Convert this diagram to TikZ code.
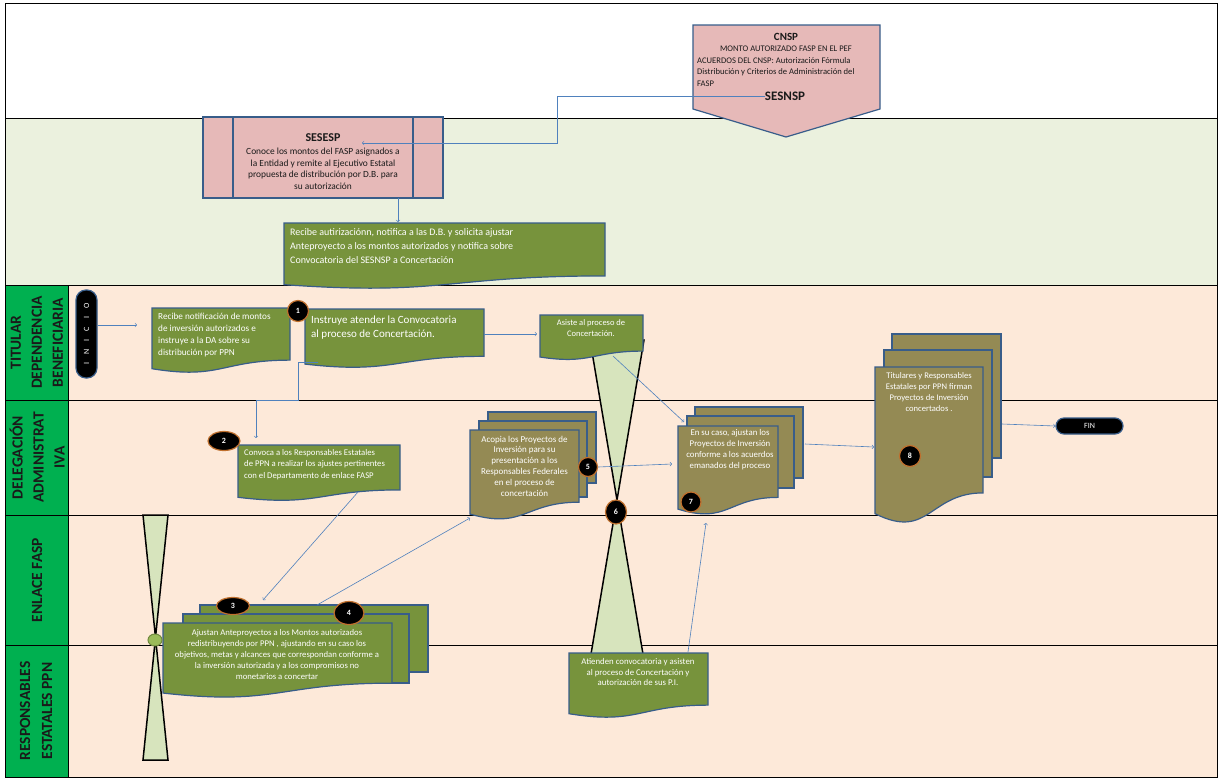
\documentclass[tikz,border=0pt]{standalone}
\usepackage{fontspec}
\setmainfont{Carlito}
\usetikzlibrary{shapes.geometric}
\definecolor{peach}{HTML}{FDE9D9}
\definecolor{band}{HTML}{EBF1DE}
\definecolor{lanegreen}{HTML}{00B050}
\definecolor{pink}{HTML}{E6B9B8}
\definecolor{edge}{HTML}{385D8A}
\definecolor{docgreen}{HTML}{77933C}
\definecolor{olive}{HTML}{948A54}
\definecolor{sand}{HTML}{D7E4BD}
\definecolor{link}{HTML}{4F81BD}
\definecolor{ring}{HTML}{C0702E}
\definecolor{leaf}{HTML}{9BBB59}
\definecolor{leafedge}{HTML}{71893F}
\definecolor{ink}{HTML}{1A1A1A}
\tikzset{
  frame/.style={draw=black, line width=1pt},
  doc/.style={fill=docgreen, draw=edge, line width=1.2pt},
  pages/.style={fill=olive, draw=edge, line width=1.2pt},
  pinkbox/.style={fill=pink, draw=edge, line width=1.2pt},
  gate/.style={fill=sand, draw=black, line width=1.5pt},
  link/.style={draw=link, line width=0.6pt, ->},
  num/.style={ellipse, fill=black, draw=ring, line width=1.2pt, text=white, inner sep=0pt,
    font=\fontsize{8}{9}\selectfont\bfseries},
  txt/.style={text=white, align=center, inner sep=0pt, font=\fontsize{8.8}{11}\selectfont},
  dark/.style={text=ink, align=center, inner sep=0pt, font=\fontsize{8.6}{11.5}\selectfont},
  lanelbl/.style={rotate=90, align=center, inner sep=0pt, text=ink,
    font=\fontsize{15.5}{21}\selectfont\bfseries},
  term/.style={rectangle, fill=black, draw=edge, line width=1.2pt, text=white, inner sep=0pt},
}
% document shape: x1 y1 (top left), x2 y2 (right, nominal bottom)
\newcommand{\docshape}[5][doc]{%
  \path[#1] (#2,#3) -- (#4,#3) -- (#4,{#3+0.802*(#5-#3)})
    .. controls ({(#2+#4)/2},{#3+0.802*(#5-#3)}) and ({(#2+#4)/2},{#3+1.107*(#5-#3)})
    .. (#2,{#3+0.934*(#5-#3)}) -- cycle;}

\begin{document}
\begin{tikzpicture}[x=1pt, y=-1pt]
  \useasboundingbox (0,0) rectangle (1219,777);

  % bands and lanes
  \fill[band] (5,118) rectangle (1217,285);
  \fill[peach] (68,285) rectangle (1217,777);
  \fill[lanegreen] (5,285) rectangle (68,777);
  \foreach \y in {118,285,400,515,645}
    \draw[frame] (5,\y) -- (1217,\y);
  \draw[frame] (5,3) rectangle (1217,777);
  \draw[frame] (68,285) -- (68,777);

  \node[lanelbl] (titular) at (37,342.5) {TITULAR\\DEPENDENCIA\\BENEFICIARIA};
  \node[lanelbl] (delegacion) at (37,457.5) {DELEGACIÓN\\ADMINISTRAT\\IVA};
  \node[lanelbl] (enlace) at (37,580) {ENLACE FASP};
  \node[lanelbl, font=\fontsize{15.5}{22}\selectfont\bfseries] (responsables) at (36,711) {RESPONSABLES\\ESTATALES PPN};

  % CNSP
  \path[pinkbox] (693,25) -- (880,25) -- (880,109) -- (786,137) -- (693,109) -- cycle;
  \node[dark, font=\fontsize{11}{13}\selectfont\bfseries] (cnsp) at (786,37) {CNSP};
  \node[dark] (monto) at (786,49) {MONTO AUTORIZADO FASP EN EL PEF};
  \node[dark, anchor=west, align=left] (acuerdos) at (697,72) {ACUERDOS DEL CNSP: Autorización Fórmula\\Distribución y Criterios de Administración del\\FASP};
  \node[dark, font=\fontsize{13}{15}\selectfont\bfseries] (sesnsp) at (785,96) {SESNSP};

  % SESESP
  \path[pinkbox] (203,117) rectangle (443,198);
  \draw[edge, line width=1.2pt] (233,117) -- (233,198) (413,117) -- (413,198);
  \node[dark, font=\fontsize{12}{14}\selectfont\bfseries] (sesesp) at (323,138) {SESESP};
  \node[dark, font=\fontsize{9.4}{11.5}\selectfont] (conoce) at (323,169) {Conoce los montos del FASP asignados a\\la Entidad y remite al Ejecutivo Estatal\\propuesta de distribución por D.B. para\\su autorización};
  \coordinate (sesespin) at (362,143);
  \coordinate (elbow) at (557,143);
  \coordinate (sesespout) at (398,198);
  \coordinate (autin) at (398,222);

  % Recibe autorizacion
  \docshape{284}{223}{605}{289}
  \node[txt, anchor=west, align=left, font=\fontsize{10}{14}\selectfont] (recibeaut) at (290,246) {Recibe autirizaciónn, notifica a las D.B. y solicita  ajustar\\Anteproyecto a los montos autorizados  y notifica sobre\\Convocatoria del SESNSP a Concertación};

  % hourglasses
  \path[gate] (590,340) -- (644,340) -- (590,660) -- (644,660) -- cycle;
  \path[gate] (143,515) -- (168,515) -- (143,760) -- (168,760) -- cycle;

  % lane 1
  \node[term, rounded corners=10pt, minimum width=21pt, minimum height=88pt] (inicio) at (86.5,334)
    {\rotatebox{90}{\fontsize{8}{9}\selectfont I\hspace{8pt}N\hspace{8pt}I\hspace{8pt}C\hspace{8pt}I\hspace{8pt}O}};
  \coordinate (notin) at (137,325);
  \docshape{152}{308}{290}{373}
  \node[txt, anchor=west, align=left, font=\fontsize{9.2}{11.8}\selectfont] (recibenot) at (158,335) {Recibe notificación de montos\\de inversión autorizados e\\instruye a la DA sobre su\\distribución por PPN};
  \docshape{305}{309}{484}{368}
  \node[txt, anchor=west, align=left, font=\fontsize{11}{13.5}\selectfont] (instruye) at (311,327.5) {Instruye atender la  Convocatoria\\al proceso de Concertación.};
  \coordinate (instrout) at (484,334);
  \coordinate (asistein) at (537,334);
  \docshape{540}{315}{643}{360}
  \node[txt, font=\fontsize{8.5}{11}\selectfont] (asiste) at (591,328.5) {Asiste al proceso de\\Concertación.};
  \coordinate (asisteout) at (613,356);

  % lane 2
  \docshape{238}{445}{400}{501}
  \node[txt, anchor=west, align=left, font=\fontsize{8.7}{11.5}\selectfont] (convoca) at (244,464.5) {Convoca a  los  Responsables Estatales\\de PPN a realizar los ajustes pertinentes\\con el Departamento de enlace FASP};
  \coordinate (convocain) at (256,438);
  \coordinate (convocaout) at (358,492);

  \path[pages] (488,412) rectangle (596,483);
  \path[pages] (479,421) rectangle (587,497);
  \docshape[pages]{470}{430}{579}{520}
  \node[txt, font=\fontsize{9}{10.8}\selectfont] (acopia) at (524.5,466) {Acopia los Proyectos de\\Inversión  para su\\presentación  a los\\Responsables Federales\\en el proceso de\\concertación};
  \coordinate (acopiain) at (470,518);

  \path[pages] (695,407) rectangle (803,478);
  \path[pages] (687,416) rectangle (794,488);
  \docshape[pages]{678}{426}{778}{515}
  \node[txt, font=\fontsize{8.8}{11}\selectfont] (ajustes) at (730,449.5) {En su caso, ajustan los\\Proyectos de Inversión\\conforme a los acuerdos\\emanados del proceso};
  \coordinate (ajustesin) at (672,464);
  \coordinate (ajustestop) at (684,422);
  \coordinate (ajustesbot) at (706,523);
  \coordinate (ajustesout) at (805,444);

  \path[pages] (892,334) rectangle (1001,458);
  \path[pages] (884,350) rectangle (992,477);
  \docshape[pages]{875}{367}{983}{524}
  \node[txt, font=\fontsize{8.6}{11.3}\selectfont] (firman) at (929,392) {Titulares  y Responsables\\Estatales por PPN firman\\Proyectos de Inversión\\concertados .};
  \coordinate (firmanin) at (874,447);
  \coordinate (firmanout) at (1002,424);

  \node[term, rounded corners=8pt, minimum width=67pt, minimum height=16pt, font=\fontsize{8}{9}\selectfont] (fin) at (1089.5,426) {FIN};

  % lanes 3 and 4
  \path[doc] (200,605) rectangle (428,672);
  \path[doc] (183,614) rectangle (409,683);
  \docshape{163}{623}{392}{698}
  \node[txt, font=\fontsize{8.7}{10.8}\selectfont] (ajustan) at (277,654.5) {Ajustan Anteproyectos a los Montos autorizados\\redistribuyendo por PPN  , ajustando en su caso los\\objetivos, metas y alcances que correspondan conforme a\\la inversión autorizada y a los compromisos no\\monetarios a  concertar};
  \coordinate (ajustanin) at (263,600);
  \coordinate (ajustanout) at (317,605);

  \docshape{569}{653}{708}{718}
  \node[txt, font=\fontsize{8.8}{10.5}\selectfont] (atienden) at (638,672) {Atienden convocatoria y asisten\\al proceso de Concertación y\\autorización de sus P.I.};
  \coordinate (atiendenout) at (688,652);

  % connectors
  \draw[link] (sesnsp.west) -| (elbow) -- (sesespin);
  \draw[link] (sesespout) -- (autin);
  \draw[link] (inicio.east |- notin) -- (notin);
  \draw[link] (instrout) -- (asistein);
  \draw[link] (318,362) -- (298,362) -- (298,400) -| (convocain);
  \draw[link] (asisteout) -- (ajustestop);
  \draw[link] (convocaout) -- (ajustanin);
  \draw[link] (ajustanout) -- (acopiain);
  \draw[link] (atiendenout) -- (ajustesbot);
  \draw[link] (ajustesout) -- (firmanin);
  \draw[link] (firmanout) -- (fin.west);

  % numbers
  \node[num, minimum width=21pt, minimum height=21pt] (n1) at (298,311) {1};
  \node[num, minimum width=32pt, minimum height=19pt] (n2) at (224,441) {2};
  \node[num, minimum width=33pt, minimum height=17pt] (n3) at (233,606) {3};
  \node[num, minimum width=30pt, minimum height=23pt] (n4) at (349,613) {4};
  \node[num, minimum width=19pt, minimum height=19pt] (n5) at (588,467) {5};
  \draw[link] (n5.east) -- (ajustesin);
  \node[num, minimum width=21pt, minimum height=24pt] (n6) at (616,512) {6};
  \node[num, minimum width=20pt, minimum height=20pt] (n7) at (691,502) {7};
  \node[num, minimum width=21pt, minimum height=21pt] (n8) at (910,456) {8};
  \node[ellipse, fill=leaf, draw=leafedge, line width=1pt, minimum width=14pt, minimum height=12pt, inner sep=0pt] (joint) at (155,640) {};
\end{tikzpicture}
\end{document}
